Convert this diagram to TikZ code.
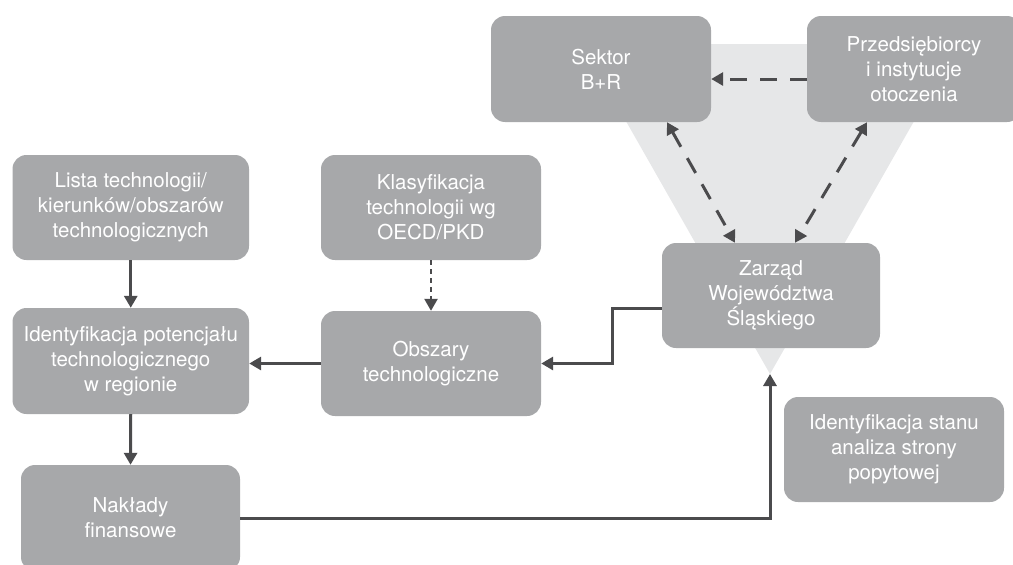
\documentclass[tikz,border=0pt]{standalone}
\usepackage{fontspec}
\setmainfont{TeX Gyre Heros}
\usetikzlibrary{arrows.meta}
\definecolor{boxgray}{HTML}{A7A8AA}
\definecolor{trigray}{HTML}{E6E7E8}
\definecolor{arrgray}{HTML}{4B4B4D}
\tikzset{
  gbox/.style={fill=boxgray, rounded corners=14pt, text=white, align=center,
    inner sep=0pt, font=\fontsize{20.5}{25}\selectfont},
  tip/.style={-{Triangle[length=12pt,width=13pt]}},
  conn/.style={draw=arrgray, line width=3pt, tip},
  dconn/.style={draw=arrgray, line width=3pt, dash pattern=on 17pt off 13pt},
  dotconn/.style={draw=arrgray, line width=2.5pt, dash pattern=on 5pt off 4pt, tip}
}
\begin{document}
\begin{tikzpicture}[x=1pt,y=-1pt]
\useasboundingbox (0,0) rectangle (1013,565);
\clip (0,0) rectangle (1013,565);
\fill[trigray] (582,44) -- (958,44) -- (770,374) -- cycle;
\coordinate (apex) at (770,374);

\node[gbox, minimum width=220pt, minimum height=106pt] (sek) at (601,69) {Sektor\\B+R};
\node[gbox, minimum width=214pt, minimum height=106pt] (prz) at (914,69) {Przedsiębiorcy\\i instytucje\\otoczenia};
\node[gbox, minimum width=218pt, minimum height=105pt] (zar) at (771,295.5) {Zarząd\\Województwa\\Śląskiego};
\node[gbox, minimum width=236.5pt, minimum height=105pt] (lis) at (130.75,207.5) {Lista technologii/\\kierunków/obszarów\\technologicznych};
\node[gbox, minimum width=220pt, minimum height=105pt] (kla) at (431,207.5) {Klasyfikacja\\technologii wg\\OECD/PKD};
\node[gbox, minimum width=236.5pt, minimum height=106pt] (ide) at (130.75,361) {Identyfikacja potencjału\\technologicznego\\w regionie};
\node[gbox, minimum width=220pt, minimum height=105pt] (obs) at (431,363.5) {Obszary\\technologiczne};
\node[gbox, minimum width=219pt, minimum height=106pt] (nak) at (130.5,518) {Nakłady\\finansowe};
\node[gbox, minimum width=220pt, minimum height=105pt] (ist) at (894,449.5) {Identyfikacja stanu\\analiza strony\\popytowej};

% dashed relations
\draw[dconn, tip] ([yshift=-10pt]prz.west) -- ([yshift=-10pt]sek.east);
\draw[dconn, {Triangle[length=12pt,width=13pt]}-{Triangle[length=12pt,width=13pt]}] ([xshift=66pt]sek.south) -- ([xshift=-36pt]zar.north);
\draw[dconn, {Triangle[length=12pt,width=13pt]}-{Triangle[length=12pt,width=13pt]}] ([xshift=-47pt]prz.south) -- ([xshift=24pt]zar.north);

% flow
\draw[dotconn] (kla.south) -- (obs.north);
\draw[conn] (lis.south) -- (ide.north);
\draw[conn] (ide.south) -- (nak.north);
\draw[conn] (obs.west) -- (obs.west -| ide.east);
\draw[conn] ([yshift=-12.5pt]zar.west) -- ++(-49,0) |- (obs.east);
\draw[conn] (nak.east) -| (apex);
\end{tikzpicture}
\end{document}
